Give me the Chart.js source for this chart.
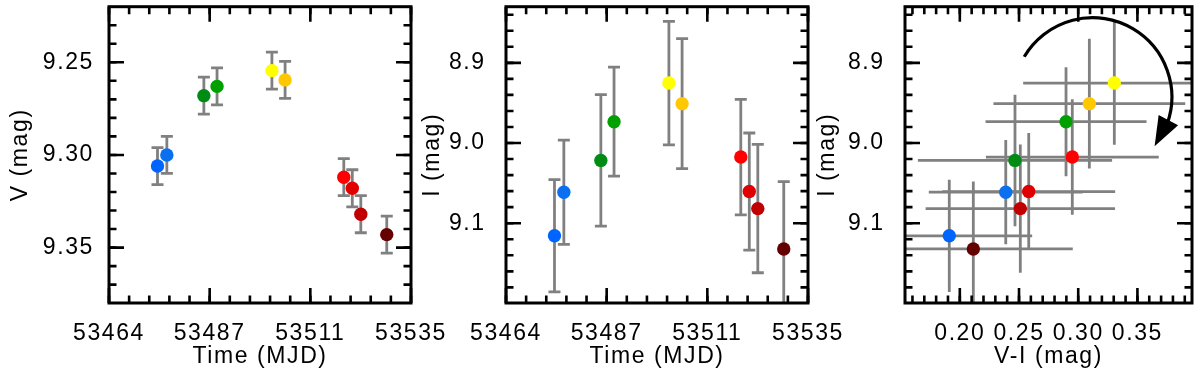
<!DOCTYPE html>
<html><head><meta charset="utf-8">
<script src="https://cdn.jsdelivr.net/npm/chart.js@4.4.1/dist/chart.umd.min.js"></script>
<style>
html,body{margin:0;padding:0;background:#fff;width:1200px;height:376px;overflow:hidden}
.p{position:absolute;top:0;height:376px}
</style></head><body>
<div class="p" style="left:0;width:460px"><canvas id="c1"></canvas></div>
<div class="p" style="left:415px;width:440px"><canvas id="c2"></canvas></div>
<div class="p" style="left:812px;width:388px"><canvas id="c3"></canvas></div>
<script>
// ---- data ----
const mjd    = [53475.4, 53477.6, 53486.3, 53489.4, 53502.3, 53505.4, 53519.2, 53521.2, 53523.2, 53529.3];
const vMag   = [9.306, 9.300, 9.268, 9.263, 9.2545, 9.2595, 9.312, 9.318, 9.332, 9.343];
const vErr   = [0.010, 0.010, 0.010, 0.010, 0.010, 0.010, 0.010, 0.010, 0.010, 0.010];
const iMag   = [9.1157, 9.0613, 9.0217, 8.9734, 8.9252, 8.9509, 9.0175, 9.0605, 9.0818, 9.1321];
const iErr   = [0.070, 0.065, 0.082, 0.068, 0.077, 0.081, 0.072, 0.073, 0.080, 0.084];
const vmi    = [0.1911, 0.2388, 0.2466, 0.2897, 0.3305, 0.3094, 0.2950, 0.2582, 0.2511, 0.2114];
const vmiErr = [0.070, 0.065, 0.082, 0.068, 0.077, 0.081, 0.073, 0.073, 0.080, 0.084];
const pointColors = ['#0064ff', '#0a70f0', '#008c14', '#00a000', '#ffff00', '#ffc800', '#ff0000', '#e10000', '#c00000', '#640000'];

const mjdTicks   = [53464, 53487.667, 53511.333, 53535];
const mjdLabels  = ['53464', '53487', '53511', '53535'];
const vTicks     = [9.25, 9.30, 9.35];
const vLabels    = ['9.25', '9.30', '9.35'];
const iTicks     = [8.9, 9.0, 9.1];
const iLabels    = ['8.9', '9.0', '9.1'];
const vmiTicks   = [0.20, 0.25, 0.30, 0.35];
const vmiLabels  = ['0.20', '0.25', '0.30', '0.35'];
const arrowCenter = {x: 0.3121, y: 8.9426};

// ---- styling ----
const FONT = {family: '"Liberation Sans", Arial, Helvetica, sans-serif', size: 23};
const GREY = '#808080';

const letterSpacingPlugin = {
  id: 'ls',
  beforeDraw(chart) { chart.ctx.letterSpacing = '1.6px'; }
};

function minorList(start, stop, step) {
  const out = [];
  for (let k = 0; start + k * step <= stop + 1e-9; k++) out.push(start + k * step);
  return out;
}

const errPlugin = {
  id: 'err',
  beforeDatasetsDraw(chart) {
    const {ctx, chartArea: a} = chart;
    const xs = chart.scales.x, ys = chart.scales.y;
    ctx.save();
    ctx.beginPath(); ctx.rect(a.left, a.top, a.right - a.left, a.bottom - a.top); ctx.clip();
    ctx.strokeStyle = GREY; ctx.lineWidth = 2.8; ctx.lineCap = 'butt';
    chart.data.datasets.forEach(ds => {
      const cap = ds.capWidth || 0;
      ds.data.forEach((p, i) => {
        const px = xs.getPixelForValue(p.x), py = ys.getPixelForValue(p.y);
        if (ds.errY) {
          const y1 = ys.getPixelForValue(p.y - ds.errY[i]), y2 = ys.getPixelForValue(p.y + ds.errY[i]);
          ctx.beginPath(); ctx.moveTo(px, y1); ctx.lineTo(px, y2); ctx.stroke();
          if (cap) {
            ctx.beginPath();
            ctx.moveTo(px - cap / 2, y1); ctx.lineTo(px + cap / 2, y1);
            ctx.moveTo(px - cap / 2, y2); ctx.lineTo(px + cap / 2, y2);
            ctx.stroke();
          }
        }
        if (ds.errX) {
          const x1 = xs.getPixelForValue(p.x - ds.errX[i]), x2 = xs.getPixelForValue(p.x + ds.errX[i]);
          ctx.beginPath(); ctx.moveTo(x1, py); ctx.lineTo(x2, py); ctx.stroke();
        }
      });
    });
    ctx.restore();
  }
};

const framePlugin = {
  id: 'frame',
  afterDatasetsDraw(chart, args, opts) {
    const {ctx, chartArea: a} = chart;
    const xs = chart.scales.x, ys = chart.scales.y;
    ctx.save();
    ctx.strokeStyle = '#000'; ctx.lineCap = 'butt';
    ctx.lineWidth = 2.6;
    const MAJ = 15, MIN = 7.5;
    const drawX = (v, len) => {
      const x = xs.getPixelForValue(v);
      ctx.beginPath();
      ctx.moveTo(x, a.bottom); ctx.lineTo(x, a.bottom - len);
      ctx.moveTo(x, a.top); ctx.lineTo(x, a.top + len);
      ctx.stroke();
    };
    const drawY = (v, len) => {
      const y = ys.getPixelForValue(v);
      ctx.beginPath();
      ctx.moveTo(a.left, y); ctx.lineTo(a.left + len, y);
      ctx.moveTo(a.right, y); ctx.lineTo(a.right - len, y);
      ctx.stroke();
    };
    opts.xMinor.forEach(v => drawX(v, MIN));
    opts.yMinor.forEach(v => drawY(v, MIN));
    xs.ticks.forEach(t => drawX(t.value, MAJ));
    ys.ticks.forEach(t => drawY(t.value, MAJ));
    ctx.lineWidth = 3;
    ctx.strokeRect(a.left, a.top, a.right - a.left, a.bottom - a.top);
    ctx.restore();
  }
};

const arrowPlugin = {
  id: 'arrow',
  afterDatasetsDraw(chart) {
    const {ctx} = chart;
    const cx = chart.scales.x.getPixelForValue(arrowCenter.x);
    const cy = chart.scales.y.getPixelForValue(arrowCenter.y);
    const r = 79.3, d = Math.PI / 180;
    ctx.save();
    ctx.strokeStyle = '#000'; ctx.fillStyle = '#000'; ctx.lineWidth = 3.2;
    ctx.beginPath();
    ctx.arc(cx, cy, r, 210.5 * d, 380 * d, false);
    ctx.stroke();
    const bx = cx + r * Math.cos(17 * d), by = cy + r * Math.sin(17 * d);
    const tx = cx + r * Math.cos(38.5 * d), ty = cy + r * Math.sin(38.5 * d);
    const dx = tx - bx, dy = ty - by, L = Math.hypot(dx, dy);
    const nx = -dy / L, ny = dx / L, hw = 11;
    ctx.beginPath();
    ctx.moveTo(tx, ty);
    ctx.lineTo(bx + nx * hw, by + ny * hw);
    ctx.lineTo(bx - nx * hw, by - ny * hw);
    ctx.closePath();
    ctx.fill();
    ctx.restore();
  }
};

const zeroPad = s => { s.paddingTop = 0; s.paddingBottom = 0; s.paddingLeft = 0; s.paddingRight = 0; };

function makeChart(id, cfg) {
  const pts = cfg.xs.map((x, i) => ({x: x, y: cfg.ys[i]}));
  return new Chart(document.getElementById(id), {
    type: 'scatter',
    data: {datasets: [{
      data: pts,
      errY: cfg.errY, errX: cfg.errX, capWidth: cfg.cap,
      pointRadius: 6.7, pointHoverRadius: 6.7, pointBorderWidth: 0,
      pointBackgroundColor: pointColors, borderWidth: 0
    }]},
    options: {
      responsive: true, maintainAspectRatio: false, animation: false, devicePixelRatio: 1,
      events: [],
      layout: {padding: {left: 0, right: cfg.padRight, top: 1.5, bottom: 0}},
      plugins: {legend: {display: false}, tooltip: {enabled: false},
        frame: {xMinor: cfg.xMinor, yMinor: cfg.yMinor}},
      scales: {
        x: {
          type: 'linear', min: cfg.xMin, max: cfg.xMax,
          afterBuildTicks: s => { s.ticks = cfg.xTicks.map(v => ({value: v})); },
          afterFit: s => { s.height = 73; zeroPad(s); },
          ticks: {callback: (v, i) => cfg.xLabels[i], autoSkip: false, maxRotation: 0, minRotation: 0,
            padding: 9.2, color: '#000', font: FONT},
          grid: {display: false}, border: {display: false},
          title: {display: true, text: cfg.xTitle, color: '#000', font: FONT, padding: {top: 0, bottom: 5.2}}
        },
        y: {
          type: 'linear', reverse: true, min: cfg.yMin, max: cfg.yMax,
          afterBuildTicks: s => { s.ticks = cfg.yTicks.map(v => ({value: v})); },
          afterFit: s => { s.width = cfg.yWidth; zeroPad(s); },
          ticks: {callback: (v, i) => cfg.yLabels[i], autoSkip: false, padding: cfg.yPad, color: '#000', font: FONT},
          grid: {display: false}, border: {display: false},
          title: {display: true, text: cfg.yTitle, color: '#000', font: FONT, padding: {top: cfg.yTitlePad, bottom: 0}}
        }
      }
    },
    plugins: [letterSpacingPlugin, errPlugin, framePlugin].concat(cfg.extra || [])
  });
}

makeChart('c1', {
  xs: mjd, ys: vMag, errY: vErr, cap: 12,
  xMin: 53464, xMax: 53535, yMin: 9.22, yMax: 9.3799,
  xTicks: mjdTicks, xLabels: mjdLabels, yTicks: vTicks, yLabels: vLabels,
  xMinor: minorList(53464, 53535, 71 / 15), yMinor: minorList(9.23, 9.37, 0.01),
  xTitle: 'Time (MJD)', yTitle: 'V (mag)',
  yWidth: 109, padRight: 49, yPad: 7, yTitlePad: 7
});
makeChart('c2', {
  xs: mjd, ys: iMag, errY: iErr, cap: 12,
  xMin: 53464, xMax: 53535, yMin: 8.830, yMax: 9.1995,
  xTicks: mjdTicks, xLabels: mjdLabels, yTicks: iTicks, yLabels: iLabels,
  xMinor: minorList(53464, 53535, 71 / 15), yMinor: minorList(8.84, 9.18, 0.02),
  xTitle: 'Time (MJD)', yTitle: 'I (mag)',
  yWidth: 91, padRight: 47, yPad: 12.3, yTitlePad: 4.2
});
makeChart('c3', {
  xs: vmi, ys: iMag, errY: iErr, errX: vmiErr, cap: 0,
  xMin: 0.1537, xMax: 0.3961, yMin: 8.830, yMax: 9.1995,
  xTicks: vmiTicks, xLabels: vmiLabels, yTicks: iTicks, yLabels: iLabels,
  xMinor: minorList(0.16, 0.39, 0.01), yMinor: minorList(8.84, 9.18, 0.02),
  xTitle: 'V-I (mag)', yTitle: 'I (mag)',
  yWidth: 93, padRight: 8, yPad: 12.3, yTitlePad: 2.2,
  extra: [arrowPlugin]
});
</script>
</body></html>
